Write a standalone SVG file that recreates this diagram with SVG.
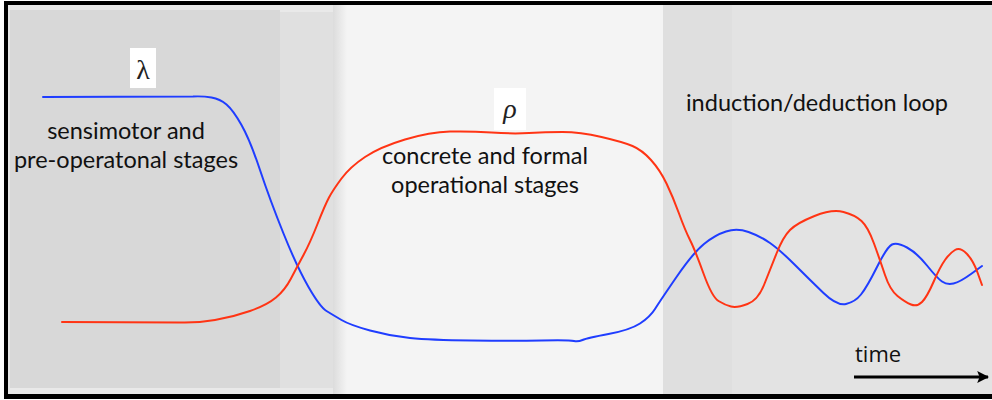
<svg xmlns="http://www.w3.org/2000/svg" width="992" height="400" viewBox="0 0 992 400">
<defs>
<style>
.lbl{font-family:Lato,"Open Sans","Liberation Sans",sans-serif;font-size:23.5px;fill:#111;text-anchor:middle}
.time{font-family:"Open Sans","Liberation Sans",sans-serif;font-size:22px;fill:#111}
.greek{font-family:"Liberation Serif","DejaVu Serif",serif;font-size:28px;fill:#222;text-anchor:middle}
.curve{fill:none;stroke-width:2;stroke-linejoin:round;stroke-linecap:round}
</style>
<linearGradient id="shade" x1="0" y1="0" x2="1" y2="0">
<stop offset="0" stop-color="#dcdcdc"/>
<stop offset="1" stop-color="#f4f4f4"/>
</linearGradient>
<marker id="ah" viewBox="0 0 10 10" refX="9" refY="5" markerWidth="4" markerHeight="4" orient="auto" markerUnits="strokeWidth">
<path d="M0,0 L10,5 L0,10 L2,5 Z" fill="#000"/>
</marker>
</defs>
<rect x="0" y="0" width="992" height="400" fill="#ffffff"/>
<g id="background">
<rect x="8" y="5" width="984" height="389" fill="#e9e9e9"/>
<rect x="10" y="10" width="270" height="378" fill="#d8d8d8"/>
<rect x="280" y="12" width="53" height="376" fill="#e0e0e0"/>
<rect x="333" y="5" width="14" height="389" fill="url(#shade)"/>
<rect x="347" y="5" width="316" height="389" fill="#f4f4f4"/>
<rect x="663" y="5" width="69" height="389" fill="#dfdfdf"/>
<rect x="732" y="5" width="260" height="389" fill="#e3e3e3"/>
</g>
<g id="frame">
<rect x="4" y="1" width="4" height="398" fill="#000"/>
<rect x="4" y="1" width="988" height="4" fill="#000"/>
<rect x="4" y="394" width="988" height="5" fill="#000"/>
</g>
<g id="connectors">
<path id="lambda-curve" class="curve" stroke="#1f3dff" d="M43,97 L193,96.5 Q203,96 211.5,97.5 Q220,99 226.5,104.5 Q233,110 241.5,125 Q250,140 260,170 Q270,200 283.5,233.5 Q297,267 308.5,287 Q320,307 326.5,311 Q333,315 341.5,320 Q350,325 370,330.5 Q390,336 410,338 Q430,340 471.5,340.5 Q513,341 541.5,340.5 Q570,340 574,341 Q578,342 582.5,340 Q587,338 608.5,334 Q630,330 640,323.5 Q650,317 655,309 Q660,301 676.5,277 Q693,253 704,244 Q715,235 726,231.5 Q737,228 748.5,232 Q760,236 770,243 Q780,250 795,265 Q810,280 823.5,293 Q837,306 846,304 Q855,302 861,294.5 Q867,287 877,267 Q887,247 892,244.5 Q897,242 907,247.5 Q917,253 927,265.5 Q937,278 942,281.5 Q947,285 953.5,283.5 Q960,282 971,274 L982,266"/>
<path id="rho-curve" class="curve" stroke="#ff3414" d="M62,322 L180,322.5 Q197,323 215,320 Q233,317 250,311 Q267,305 276,297.5 Q285,290 291,278.5 Q297,267 303.5,255 Q310,243 317.5,224 Q325,205 329,197.5 Q333,190 341.5,178.5 Q350,167 365,157 Q380,147 405,139.5 Q430,132 450,131.5 Q470,131 491.5,132.5 Q513,134 529,133 Q545,132 562.5,132 Q580,132 601.5,137 Q623,142 632.5,146 Q642,150 651,160 Q660,170 666.5,183.5 Q673,197 679,213.5 Q685,230 690,240 Q695,250 703.5,273.5 Q712,297 718.5,301 Q725,305 731,306.5 Q737,308 747.5,304 Q758,300 764,285 Q770,270 776.5,253.5 Q783,237 790,230 Q797,223 814.5,216 Q832,209 843.5,212 Q855,215 861.5,221 Q868,227 874,243.5 Q880,260 885,275 Q890,290 897.5,296 Q905,302 911,304.5 Q917,307 922,302 Q927,297 933.5,282 Q940,267 945,260 Q950,253 955,250 Q960,247 966.5,253.5 Q973,260 977.5,272.5 L982,285"/>
<line id="time-arrow" x1="854" y1="377" x2="988" y2="377" stroke="#000" stroke-width="3" marker-end="url(#ah)"/>
</g>
<g id="lambda">
<rect x="130" y="48" width="26" height="40" fill="#ffffff"/>
<text class="greek" x="143" y="79">λ</text>
</g>
<g id="rho">
<rect x="494" y="88" width="32" height="42" fill="#ffffff"/>
<text class="greek" x="510" y="118" font-style="italic">ρ</text>
</g>
<g id="stage1">
<text class="lbl" x="126" y="139">sensimotor and</text>
<text class="lbl" x="126" y="168">pre-operatonal stages</text>
</g>
<g id="stage2">
<text class="lbl" x="485" y="164">concrete and formal</text>
<text class="lbl" x="485" y="193">operational stages</text>
</g>
<g id="stage3">
<text class="lbl" x="817" y="111">induction/deduction loop</text>
</g>
<g id="time">
<text class="time" x="855" y="362">time</text>
</g>
</svg>
